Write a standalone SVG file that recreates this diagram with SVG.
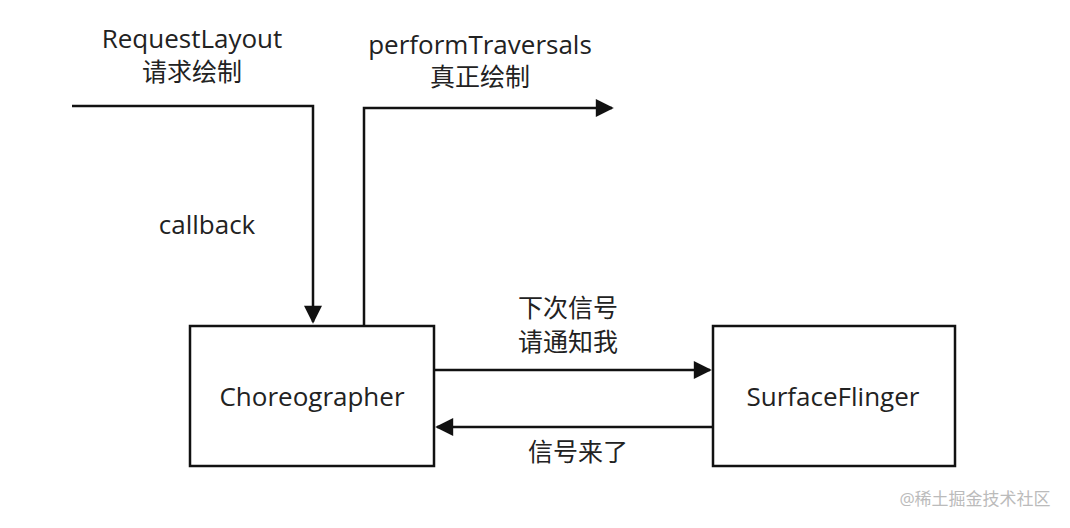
<svg xmlns="http://www.w3.org/2000/svg" width="1070" height="528" viewBox="0 0 1070 528">
<style>
text{font-family:"Open Sans","Noto Sans CJK SC",sans-serif;font-size:26px;fill:#222;text-anchor:middle}
.z{font-size:25px}
.n{fill:#fff;stroke:#111;stroke-width:2.5}
.c{fill:none;stroke:#111;stroke-width:2.5}
</style>
<defs><marker id="b" viewBox="0 0 10 10" refX="9" refY="5" markerWidth="28" markerHeight="18" markerUnits="userSpaceOnUse" orient="auto"><path d="M0,0L10,5L0,10z" fill="#111"/></marker></defs>
<rect width="1070" height="528" fill="#fff"/>
<g id="connectors">
<path class="c" d="M72,106H313V322" marker-end="url(#b)"/>
<path class="c" d="M364,326V108H612" marker-end="url(#b)"/>
<path class="c" d="M434,370H710" marker-end="url(#b)"/>
<path class="c" d="M713,427H437" marker-end="url(#b)"/>
</g>
<g id="choreographer"><rect class="n" x="190" y="326" width="244" height="140"/><text x="312" y="406">Choreographer</text></g>
<g id="surfaceflinger"><rect class="n" x="713" y="326" width="242" height="140"/><text x="833" y="406">SurfaceFlinger</text></g>
<g id="labels">
<text x="192" y="48">RequestLayout</text><text class="z" x="192" y="81">请求绘制</text>
<text x="480" y="54">performTraversals</text><text class="z" x="480" y="86">真正绘制</text>
<text x="207" y="234">callback</text>
<text class="z" x="568" y="317">下次信号</text><text class="z" x="568" y="351">请通知我</text>
<text class="z" x="578" y="461">信号来了</text>
<text x="975" y="505" style="font-size:17px;fill:#bbb">@稀土掘金技术社区</text>
</g>
</svg>
